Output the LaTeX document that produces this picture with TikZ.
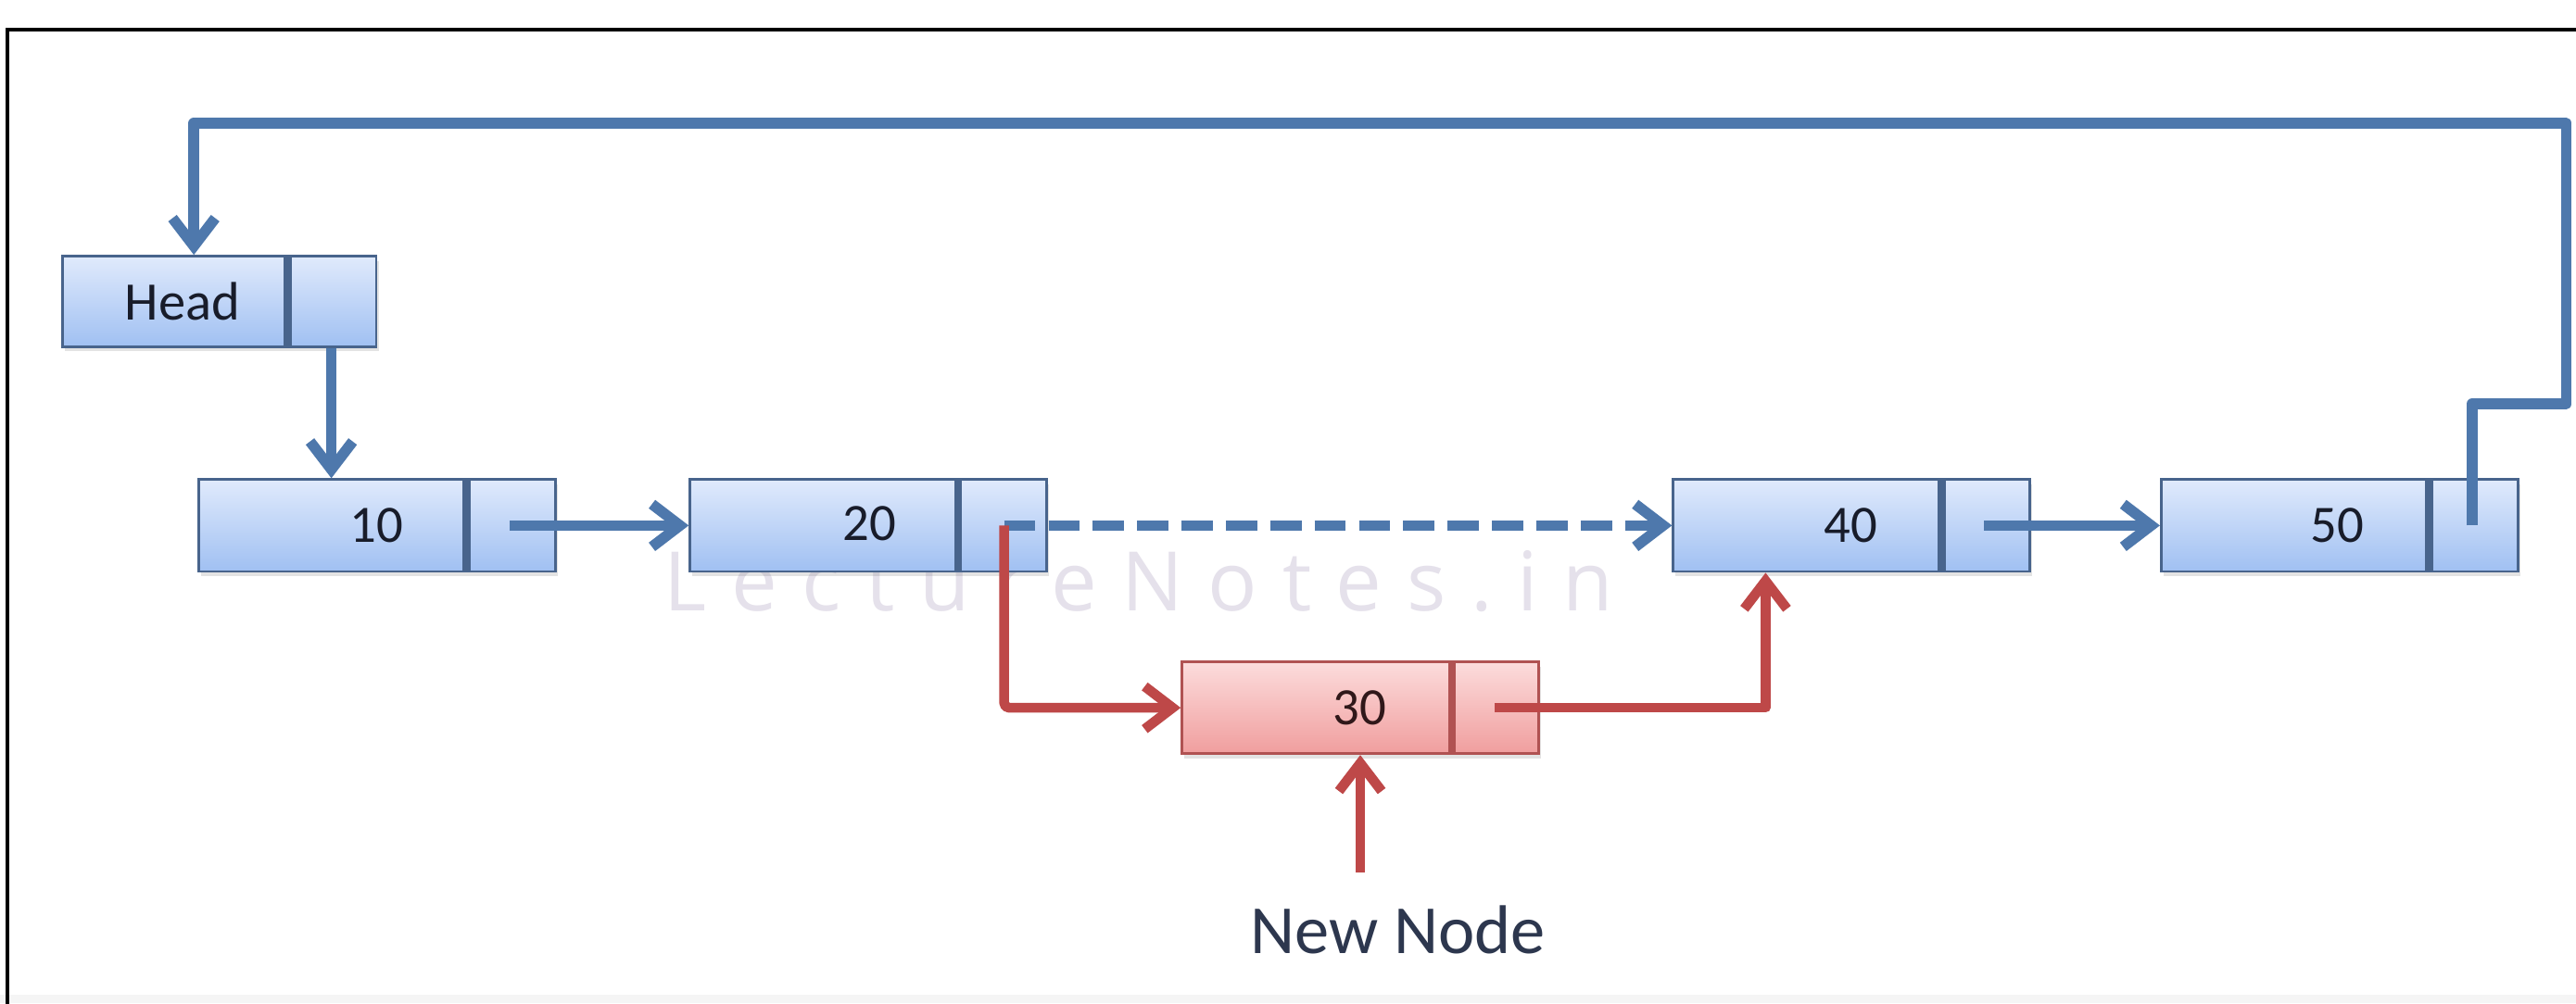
\documentclass[tikz,border=0pt]{standalone}
\usepackage{fontspec}
\setmainfont{Carlito}
\newfontfamily\wmfont{Open Sans}[LetterSpace=30]
\usetikzlibrary{arrows.meta,shadows,calc}

\definecolor{lineblue}{RGB}{78,120,172}
\definecolor{edgeblue}{RGB}{72,100,140}
\definecolor{filltop}{RGB}{224,234,252}
\definecolor{fillbot}{RGB}{160,192,242}
\definecolor{linered}{RGB}{190,72,72}
\definecolor{edgered}{RGB}{176,82,82}
\definecolor{redtop}{RGB}{252,220,220}
\definecolor{redbot}{RGB}{240,158,158}
\definecolor{inkdark}{RGB}{24,28,42}
\definecolor{inkred}{RGB}{48,24,26}
\definecolor{labelink}{RGB}{45,55,78}
\definecolor{wmgray}{RGB}{229,225,235}

\tikzset{
  cell/.style={draw=edgeblue, line width=1.6pt, top color=filltop, bottom color=fillbot,
    minimum width=217pt, minimum height=56pt, inner sep=0pt,
    drop shadow={shadow xshift=1.5pt, shadow yshift=-3pt, opacity=0.22}},
  headcell/.style={cell, minimum width=191pt, minimum height=55pt},
  redcell/.style={cell, draw=edgered, top color=redtop, bottom color=redbot},
  divider/.style={draw=edgeblue, line width=5pt},
  reddivider/.style={draw=edgered, line width=4.5pt},
  val/.style={text=inkdark, font=\fontsize{32}{36}\selectfont, inner sep=0pt},
  headtext/.style={text=inkdark, font=\fontsize{33}{38}\selectfont, inner sep=0pt},
  newlabel/.style={text=labelink, font=\fontsize{42}{48}\selectfont, inner sep=0pt},
  wmark/.style={text=wmgray, font=\wmfont\fontsize{50}{56}\selectfont, inner sep=0pt},
  link/.style={draw=lineblue, line width=6.5pt, line join=round,
    -{Straight Barb[length=17pt, width=26pt]}},
  redlink/.style={link, draw=linered, line width=6pt},
}

\begin{document}
\begin{tikzpicture}[x=1pt, y=-1pt]
  \useasboundingbox (0,0) rectangle (1568,611);
  \fill[white] (0,0) rectangle (1568,611);
  \fill[black!4] (0,606) rectangle (1568,611);

  % outer frame (left and top edges)
  \draw[line width=2.2pt, black] (4.7,615) -- (4.7,18) -- (1572,18);

  % watermark
  \node[wmark, anchor=base west] (wm) at (404,372) {LectureNotes.in};

  % list cells
  \node[headcell] (head) at (133.5,183.5) {};
  \node[cell] (n10) at (229.5,320) {};
  \node[cell] (n20) at (528.5,320) {};
  \node[cell] (n40) at (1127,320) {};
  \node[cell] (n50) at (1424,320) {};
  \node[redcell] (n30) at (828,431) {};

  % dividers between data and pointer fields
  \draw[divider] ($(head.north west)+(138,0)$) -- ($(head.south west)+(138,0)$);
  \foreach \c in {n10,n20,n40,n50}
    \draw[divider] ($(\c.north west)+(164,0)$) -- ($(\c.south west)+(164,0)$);
  \draw[reddivider] ($(n30.north west)+(165,0)$) -- ($(n30.south west)+(165,0)$);

  % values
  \node[headtext] (thead) at ($(head.west)+(74,0)$) {Head};
  \node[val] (t10) at ($(n10.west)+(109,0)$) {10};
  \node[val] (t20) at ($(n20.west)+(110,-1)$) {20};
  \node[val] (t40) at ($(n40.west)+(109,0)$) {40};
  \node[val] (t50) at ($(n50.west)+(108,0)$) {50};
  \node[val, text=inkred] (t30) at ($(n30.west)+(109,0)$) {30};
  \node[newlabel] (lbl) at (851,566) {New Node};

  % pointer origins and bends
  \coordinate (ph)  at ($(head.west)+(164.5,0)$);
  \coordinate (p10) at ($(n10.west)+(190,0)$);
  \coordinate (p20) at ($(n20.west)+(192,0)$);
  \coordinate (p40) at ($(n40.west)+(190,0)$);
  \coordinate (p50) at ($(n50.west)+(190,0)$);
  \coordinate (p30) at ($(n30.west)+(191,0)$);
  \coordinate (in40) at ($(n40.south west)+(57,0)$);
  \coordinate (bendA) at (1562,246);
  \coordinate (bendB) at (1562,75);
  \coordinate (bendC) at (118,75);

  % blue links
  \draw[link] (head.south -| ph) -- (n10.north -| ph);
  \draw[link] (p10) -- (n20.west);
  \draw[link, dash pattern=on 19pt off 8pt] (p20) -- (n40.west);
  \draw[link] (p40) -- (n50.west);
  \draw[link] (p50) |- (bendA) -- (bendB) -- (bendC) -- (bendC |- head.north);

  % red links through the inserted cell
  \draw[redlink, rounded corners=3pt] (p20) |- (n30.west);
  \draw[redlink] (p30) -| (in40);
  \draw[redlink, shorten <=20pt] (lbl.north -| n30.south) -- (n30.south);
\end{tikzpicture}
\end{document}
